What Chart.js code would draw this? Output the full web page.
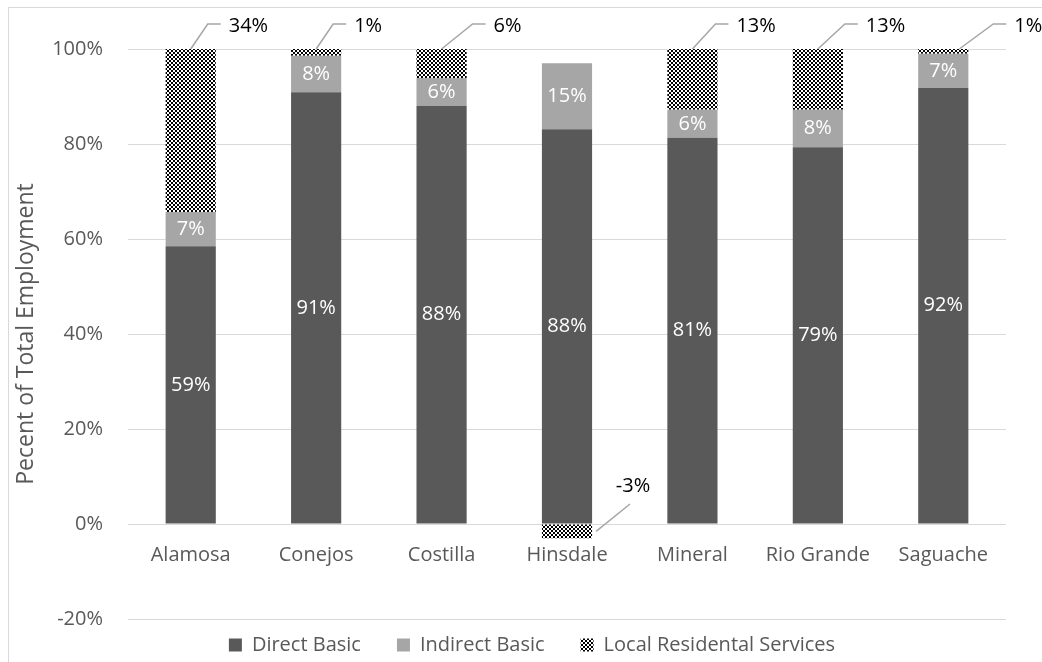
<!DOCTYPE html>
<html lang="en">
<head>
<meta charset="UTF-8" />
<title>Basic vs Local Employment</title>
<script src="https://cdn.jsdelivr.net/npm/chart.js@4.4.1/dist/chart.umd.min.js"></script>
<style>
  html,body{margin:0;background:#fff;overflow:hidden}
  #frame{position:absolute;left:8px;top:7px;width:1046px;height:680px;border:1px solid #d9d9d9;background:#fff}
</style>
</head>
<body>
<div id="frame"><canvas id="chart"></canvas></div>
<script>
  // share of total employment by county, in percent
  const counties = ['Alamosa','Conejos','Costilla','Hinsdale','Mineral','Rio Grande','Saguache'];
  const directBasic = [58.5, 90.9, 88.0, 88.4, 81.3, 79.3, 91.8];
  const indirectBasic = [7.2, 7.7, 5.9, 14.8, 5.9, 7.9, 7.2];
  const localServices = [34.3, 1.4, 6.1, -3.2, 12.8, 12.8, 1.0];
  const yTicks = [-20, 0, 20, 40, 60, 80, 100];

  // callout offsets (px from bar centre) for the local services labels
  const calloutStart = [0, 0, 0, 0, 0, 0, 16];
  const calloutText = [38, 38, 52, 66, 44, 48, 71];

  const GREY = '#595959';
  const FONT = '"Open Sans", sans-serif';

  // 100% stacked: each part over the sum of absolute parts
  const totals = counties.map((_, i) => Math.abs(directBasic[i]) + Math.abs(indirectBasic[i]) + Math.abs(localServices[i]));
  const share = arr => arr.map((v, i) => v / totals[i] * 100);

  const ctx = document.getElementById('chart').getContext('2d');
  function checker() {
    const c = document.createElement('canvas');
    c.width = c.height = 4;
    const g = c.getContext('2d');
    g.fillStyle = '#fff'; g.fillRect(0, 0, 4, 4);
    g.fillStyle = '#000'; g.fillRect(0, 0, 2, 2); g.fillRect(2, 2, 2, 2);
    return ctx.createPattern(c, 'repeat');
  }

  const segmentLabels = {
    id: 'segmentLabels',
    afterDatasetsDraw(chart) {
      const c = chart.ctx;
      const yZero = chart.scales.y.getPixelForValue(0);
      c.save();
      c.font = '20px ' + FONT;
      c.textBaseline = 'middle';
      c.textAlign = 'center';
      c.fillStyle = '#fff';
      [directBasic, indirectBasic].forEach((values, d) => {
        chart.getDatasetMeta(d).data.forEach((bar, i) => {
          c.fillText(Math.round(values[i]) + '%', bar.x, (bar.y + bar.base) / 2);
        });
      });
      c.strokeStyle = '#a6a6a6';
      c.lineWidth = 1.5;
      c.fillStyle = '#000';
      chart.getDatasetMeta(2).data.forEach((bar, i) => {
        const v = localServices[i];
        const text = Math.round(v) + '%';
        c.beginPath();
        if (v >= 0) {
          const tx = bar.x + calloutText[i];
          const ty = bar.y - 23;
          c.moveTo(bar.x + calloutStart[i], bar.y);
          c.lineTo(tx - 21, ty - 2);
          c.lineTo(tx - 8, ty - 2);
          c.stroke();
          c.textAlign = 'left';
          c.fillText(text, tx, ty);
        } else {
          const tx = bar.x + calloutText[i];
          c.moveTo(bar.x + bar.width / 2 + 4, (bar.y + bar.base) / 2);
          c.lineTo(tx - 3, yZero - 20);
          c.stroke();
          c.textAlign = 'center';
          c.fillText(text, tx, yZero - 38);
        }
      });
      c.restore();
    }
  };

  // centre the legend on the full frame and lift it closer to the plot
  const legendPlace = {
    id: 'legendPlace',
    afterLayout(chart) {
      const l = chart.legend;
      l.left = 0;
      l.right = chart.width;
      l.top -= 20;
      l.bottom -= 20;
    }
  };

  const pattern = checker();

  new Chart(ctx, {
    type: 'bar',
    data: {
      labels: counties,
      datasets: [
        {label: 'Direct Basic', data: share(directBasic), backgroundColor: GREY},
        {label: 'Indirect Basic', data: share(indirectBasic), backgroundColor: '#a6a6a6'},
        {label: 'Local Residental Services', data: share(localServices), backgroundColor: pattern}
      ]
    },
    options: {
      responsive: true,
      maintainAspectRatio: false,
      animation: false,
      datasets: {bar: {barPercentage: 0.4, categoryPercentage: 1, borderWidth: 0}},
      layout: {padding: {left: 0, right: 49, top: 41, bottom: 3}},
      plugins: {
        tooltip: {enabled: false},
        legend: {
          position: 'bottom',
          labels: {boxWidth: 13, boxHeight: 13, padding: 36, color: GREY, font: {family: FONT, size: 20}}
        }
      },
      scales: {
        x: {
          stacked: true,
          position: {y: 0},
          grid: {display: false, drawTicks: false},
          border: {display: false},
          ticks: {color: GREY, font: {family: FONT, size: 20}, padding: 19, maxRotation: 0, autoSkip: false},
          afterFit: s => { s.height = 0; }
        },
        y: {
          stacked: true,
          min: -20,
          max: 100,
          afterBuildTicks: s => { s.ticks = yTicks.map(v => ({value: v})); },
          grid: {color: '#d9d9d9', lineWidth: 1, drawTicks: false},
          border: {display: false},
          ticks: {color: GREY, font: {family: FONT, size: 20}, padding: 25, callback: v => v + '%'},
          title: {display: true, text: 'Pecent of Total Employment', color: GREY, font: {family: FONT, size: 23}, padding: {top: 4}},
          afterFit: s => { s.width = 119; }
        }
      }
    },
    plugins: [segmentLabels, legendPlace]
  });
</script>
</body>
</html>
